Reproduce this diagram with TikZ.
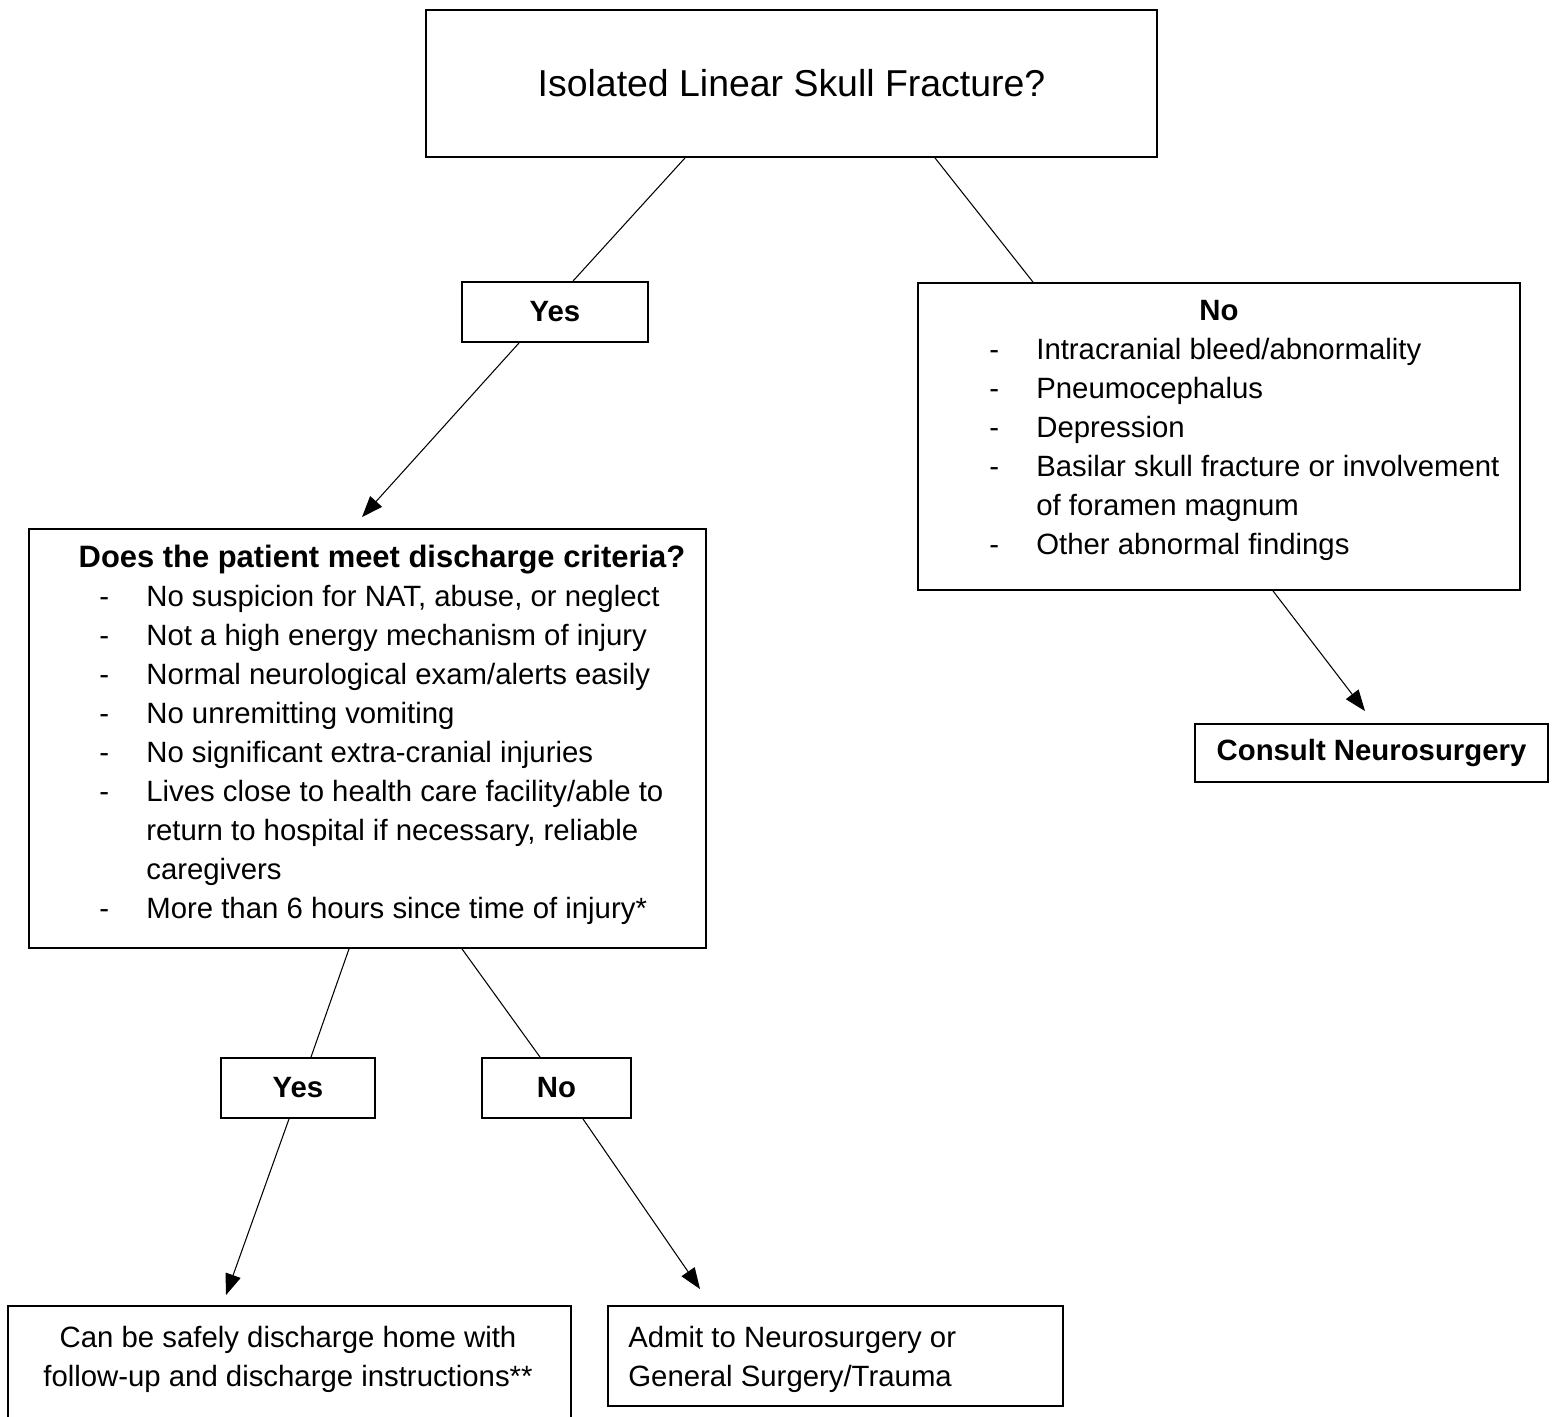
\documentclass[tikz,border=0pt]{standalone}
\usepackage{fontspec}
\setmainfont{Liberation Sans}
\usetikzlibrary{arrows.meta,calc}
\newcommand\bodysize{\fontsize{16.7}{22.2}\selectfont}
\newcommand\headsize{\fontsize{17.6}{22.2}\selectfont}
\newcommand\titlesize{\fontsize{21.3}{26}\selectfont}
\tikzset{
  box/.style={draw, line width=1.1pt, inner sep=0pt, font=\bodysize},
  conn/.style={line width=0.6pt},
  arr/.style={line width=0.6pt, -{Triangle[length=12pt,width=9pt]}},
  txt/.style={inner sep=0pt, font=\bodysize},
}
\begin{document}
\begin{tikzpicture}[x=0.02cm,y=-0.02cm]
\clip (0,0) rectangle (1557,1416);
\fill[white] (0,0) rectangle (1557,1416);

% boxes
\node[box, minimum width=731*0.569pt, minimum height=147*0.569pt, font=\titlesize] (top) at (791.5,83.5) {Isolated Linear Skull Fracture?};
\node[box, minimum width=186*0.569pt, minimum height=60*0.569pt, font=\bodysize\bfseries] (yes1) at (555,312) {Yes};
\node[box, minimum width=602*0.569pt, minimum height=307*0.569pt] (no1) at (1219,436.5) {};
\node[box, minimum width=677*0.569pt, minimum height=419*0.569pt] (crit) at (367.5,738.5) {};
\node[box, minimum width=353*0.569pt, minimum height=58*0.569pt, font=\bodysize\bfseries] (consult) at (1371.5,753) {Consult Neurosurgery};
\node[box, minimum width=154*0.569pt, minimum height=60*0.569pt, font=\bodysize\bfseries] (yes2) at (298,1088) {Yes};
\node[box, minimum width=149*0.569pt, minimum height=60*0.569pt, font=\bodysize\bfseries] (no2) at (556.5,1088) {No};
\node[box, minimum width=563*0.569pt, minimum height=130*0.569pt] (home) at (289.5,1371) {};
\node[box, minimum width=455*0.569pt, minimum height=100*0.569pt] (admit) at (835.5,1356) {};

% texts
\node[txt, anchor=base, font=\bodysize\bfseries] (nohead) at (1219,320) {No};
\node[txt, anchor=base west] (nolist) at (989,359) {%
\begin{tabular}[t]{@{}p{47\dimexpr0.569pt\relax}@{}l@{}}
- & Intracranial bleed/abnormality\\
- & Pneumocephalus\\
- & Depression\\
- & Basilar skull fracture or involvement\\
 & of foramen magnum\\
- & Other abnormal findings
\end{tabular}};

\node[txt, anchor=base, font=\headsize\bfseries] (crithead) at (382,567) {Does the patient meet discharge criteria?};
\node[txt, anchor=base west] (critlist) at (99,606) {%
\begin{tabular}[t]{@{}p{47\dimexpr0.569pt\relax}@{}l@{}}
- & No suspicion for NAT, abuse, or neglect\\
- & Not a high energy mechanism of injury\\
- & Normal neurological exam/alerts easily\\
- & No unremitting vomiting\\
- & No significant extra-cranial injuries\\
- & Lives close to health care facility/able to\\
 & return to hospital if necessary, reliable\\
 & caregivers\\
- & More than 6 hours since time of injury*
\end{tabular}};

\node[txt, anchor=base, align=center] (hometext) at (288,1386) {Can be safely discharge home with\\follow-up and discharge instructions**};
\node[txt, anchor=base west, align=left] (admittext) at (628,1386) {Admit to Neurosurgery or\\General Surgery/Trauma};

% connectors
\draw[conn] (top.south -| 685,0) -- (yes1.north -| 573,0);
\draw[conn] (top.south -| 935,0) -- (no1.north -| 1033,0);
\draw[arr] (yes1.south -| 519,0) -- ($(crit.north -| 362,0)+(0,-11)$);
\draw[arr] (no1.south -| 1273,0) -- ($(consult.north -| 1365,0)+(0,-12)$);
\draw[conn] (crit.south -| 349,0) -- (yes2.north -| 311,0);
\draw[conn] (crit.south -| 462,0) -- (no2.north -| 540,0);
\draw[arr] (yes2.south -| 289,0) -- ($(home.north -| 226,0)+(0,-10)$);
\draw[arr] (no2.south -| 583,0) -- ($(admit.north -| 700,0)+(0,-16)$);
\end{tikzpicture}
\end{document}
